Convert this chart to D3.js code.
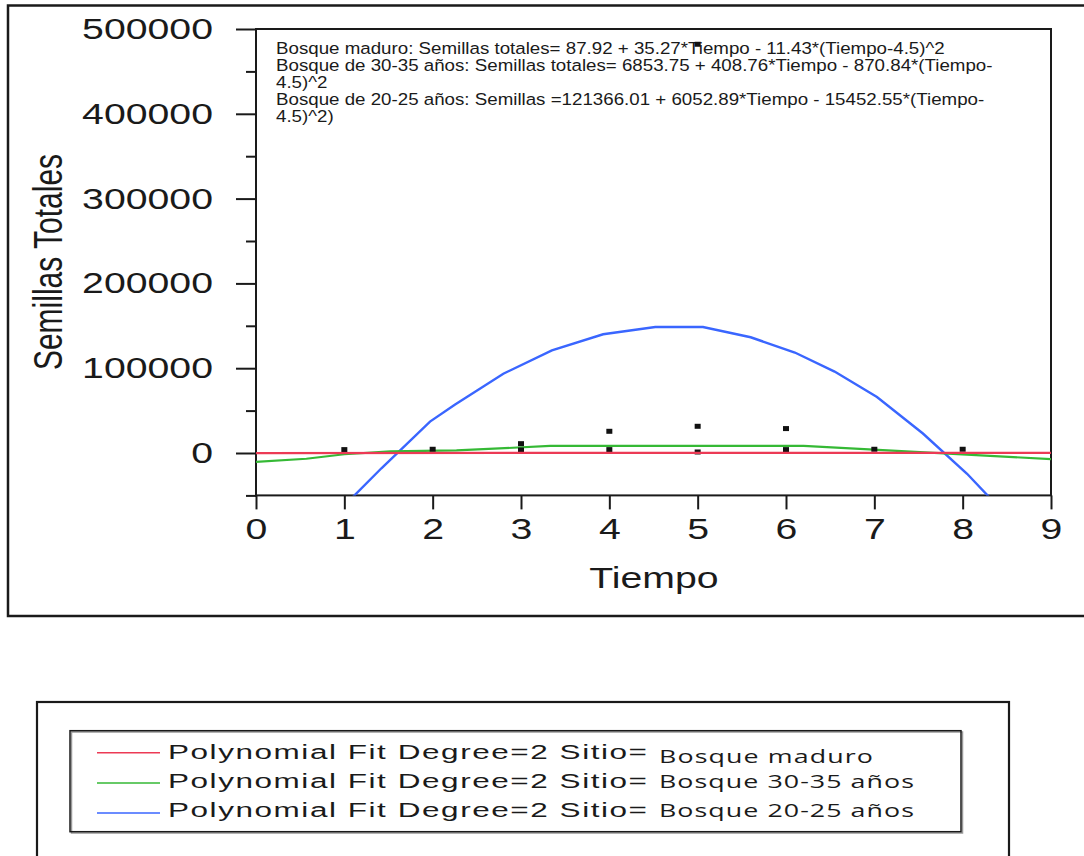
<!DOCTYPE html>
<html>
<head>
<meta charset="utf-8">
<script src="https://cdn.jsdelivr.net/npm/d3@7"></script>
<style>
  html, body { margin: 0; padding: 0; background: #ffffff; }
  svg { display: block; }
</style>
</head>
<body>
<script>
// ---------- data ----------
const xTickValues = [0, 1, 2, 3, 4, 5, 6, 7, 8, 9];
const yMajorTicks = [0, 100000, 200000, 300000, 400000, 500000];
const yMinorTicks = [-50000, 50000, 150000, 250000, 350000, 450000];

// observed points (Tiempo, Semillas Totales)
const pointTiempo = [1, 2, 3, 3, 4, 4, 5, 5, 5, 6, 6, 7, 8];
const pointSemillas = [4000, 4400, 11000, 3500, 25600, 4000, 31500, 1200, 482000, 28800, 4000, 4400, 4400];

// fitted polylines as drawn
const maduroTiempo = [0, 4.5, 9];
const maduroSemillas = [-150, 250, 170];

const b3035Tiempo = [0, 0.57, 1.0, 1.52, 2.27, 3.33, 6.2, 9];
const b3035Semillas = [-10500, -6800, -1500, 1800, 3000, 8300, 8300, -7200];

const b2025Tiempo = [1.0, 1.42, 1.97, 2.25, 2.80, 3.35, 3.93, 4.52, 5.06, 5.6, 6.1, 6.55, 7.03, 7.55, 8.05, 8.4];
const b2025Semillas = [-62000, -18000, 37000, 57000, 93500, 121000, 140000, 148500, 148500, 136500, 118500, 96000, 66000, 23000, -24500, -63000];

const annotationLines = [
  "Bosque maduro: Semillas totales= 87.92 + 35.27*Tiempo - 11.43*(Tiempo-4.5)^2",
  "Bosque de 30-35 años: Semillas totales= 6853.75 + 408.76*Tiempo - 870.84*(Tiempo-",
  "4.5)^2",
  "Bosque de 20-25 años: Semillas =121366.01 + 6052.89*Tiempo - 15452.55*(Tiempo-",
  "4.5)^2)"
];
const legendPrefix = "Polynomial Fit Degree=2 Sitio=";
const legendSites = ["Bosque maduro", "Bosque 30-35 años", "Bosque 20-25 años"];
const seriesColors = ["#ec3a55", "#35b935", "#3a66ff"];

// ---------- layout ----------
const W = 1084, H = 856;
const FONT = "'Liberation Sans', Arial, sans-serif";
const INK = "#1a1a1a";
const SX = 1.33;

const svg = d3.select("body").append("svg").attr("width", W).attr("height", H);

const x = d3.scaleLinear().domain([0, 9]).range([256, 1051]);
const y = d3.scaleLinear().domain([-50000, 500000]).range([495.4, 29]);

// outer chart box
svg.append("rect").attr("x", 8).attr("y", 5.5).attr("width", 1100).attr("height", 610.5)
  .attr("fill", "none").attr("stroke", INK).attr("stroke-width", 2.5);

// clip for plot
svg.append("defs").append("clipPath").attr("id", "plotclip")
  .append("rect").attr("x", x(0)).attr("y", y(500000)).attr("width", x(9) - x(0)).attr("height", y(-50000) - y(500000));

// annotation text
const ann = svg.append("g").attr("transform", "translate(276,0)")
  .attr("font-family", FONT).attr("font-size", 17).attr("fill", INK);
const annBase = [54, 71, 88, 105, 122];
const annTexts = ann.selectAll("text").data(annotationLines).join("text")
  .attr("x", 0).attr("y", (d, i) => annBase[i]).text(d => d);
const natW = annTexts.nodes()[0].getComputedTextLength();
const annSX = 669 / natW;
annTexts.attr("transform", `scale(${annSX},1)`);

// axes
function styleAxis(g) {
  g.select(".domain").remove();
  g.selectAll(".tick line").attr("stroke", INK).attr("stroke-width", 2);
}
const yMajorG = svg.append("g").attr("transform", `translate(${x(0)},0)`)
  .call(d3.axisLeft(y).tickValues(yMajorTicks).tickSize(20).tickPadding(23).tickFormat(d3.format("d")))
  .attr("font-family", FONT).attr("font-size", 29.5);
styleAxis(yMajorG);
yMajorG.selectAll(".tick text").attr("fill", INK).attr("x", -43 / SX).attr("transform", `scale(${SX},1)`);

const yMinorG = svg.append("g").attr("transform", `translate(${x(0)},0)`)
  .call(d3.axisLeft(y).tickValues(yMinorTicks).tickSize(10).tickFormat(""));
styleAxis(yMinorG);

const xG = svg.append("g").attr("transform", `translate(0,${y(-50000)})`)
  .call(d3.axisBottom(x).tickValues(xTickValues).tickSize(14).tickPadding(9).tickFormat(d3.format("d")))
  .attr("font-family", FONT).attr("font-size", 29.5);
styleAxis(xG);
xG.selectAll(".tick text").attr("fill", INK).attr("transform", `scale(${SX},1)`);

// frame
const frame = svg.append("g").attr("stroke", INK).attr("stroke-width", 2).attr("fill", "none");
frame.append("rect").attr("x", x(0)).attr("y", y(500000)).attr("width", x(9) - x(0)).attr("height", y(-50000) - y(500000));

// axis titles
svg.append("text").attr("text-anchor", "middle").attr("font-family", FONT).attr("font-size", 30).attr("fill", INK)
  .attr("dy", "0.35em")
  .attr("transform", `translate(48,262) scale(${SX},1) rotate(-90)`).text("Semillas Totales");
svg.append("text").attr("text-anchor", "middle").attr("font-family", FONT).attr("font-size", 29.5).attr("fill", INK)
  .attr("transform", `translate(654,588) scale(${SX},1)`).text("Tiempo");

// curves
const line = d3.line().x(d => x(d[0])).y(d => y(d[1]));
const plot = svg.append("g").attr("clip-path", "url(#plotclip)");
const zip = (a, b) => a.map((v, i) => [v, b[i]]);

plot.append("path").datum(zip(b2025Tiempo, b2025Semillas)).attr("d", line)
  .attr("fill", "none").attr("stroke", seriesColors[2]).attr("stroke-width", 2.4);
plot.append("path").datum(zip(b3035Tiempo, b3035Semillas)).attr("d", line)
  .attr("fill", "none").attr("stroke", seriesColors[1]).attr("stroke-width", 2.2);

// points
plot.selectAll("rect.pt").data(zip(pointTiempo, pointSemillas)).join("rect").attr("class", "pt")
  .attr("x", d => x(d[0]) - 3).attr("y", d => y(d[1]) - 2.5).attr("width", 6).attr("height", 5).attr("fill", "#111");

plot.append("path").datum(zip(maduroTiempo, maduroSemillas)).attr("d", line)
  .attr("fill", "none").attr("stroke", seriesColors[0]).attr("stroke-width", 2.2);

// legend outer box
svg.append("rect").attr("x", 37).attr("y", 702).attr("width", 972).attr("height", 170)
  .attr("fill", "none").attr("stroke", INK).attr("stroke-width", 2.2);
// inner legend box (shadow + box)
svg.append("rect").attr("x", 71.5).attr("y", 732).attr("width", 891).attr("height", 101)
  .attr("fill", "none").attr("stroke", "#999").attr("stroke-width", 1.5);
svg.append("rect").attr("x", 70).attr("y", 730.7).attr("width", 891).attr("height", 101)
  .attr("fill", "none").attr("stroke", INK).attr("stroke-width", 1.5);

const legBase = [759, 788, 817];
const legSiteBase = [763, 788, 817];
const legSiteW = [214, 255, 255];
const legLineY = [752.7, 783, 813];
const LSX = 1.5;
legendSites.forEach((s, i) => {
  svg.append("line").attr("x1", 97).attr("x2", 160).attr("y1", legLineY[i]).attr("y2", legLineY[i])
    .attr("stroke", seriesColors[i]).attr("stroke-width", 1.6);
  svg.append("text").attr("font-family", FONT).attr("font-size", 21).attr("fill", INK)
    .attr("transform", `translate(168,${legBase[i]}) scale(${LSX},1)`)
    .attr("textLength", 479 / LSX).attr("lengthAdjust", "spacing")
    .text(legendPrefix);
  svg.append("text").attr("font-family", "'Open Sans', sans-serif").attr("font-size", 18.5).attr("fill", INK)
    .attr("transform", `translate(659,${legSiteBase[i]}) scale(1.45,1)`)
    .attr("textLength", legSiteW[i] / 1.45).attr("lengthAdjust", "spacing")
    .text(s);
});
</script>
</body>
</html>
